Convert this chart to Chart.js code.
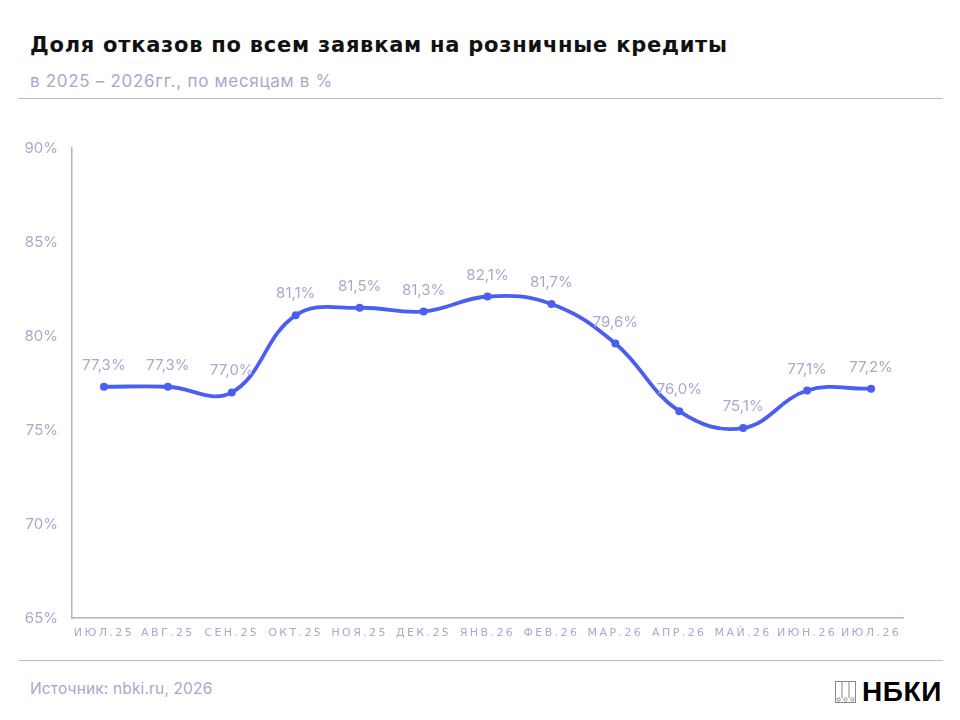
<!DOCTYPE html>
<html lang="ru">
<head>
<meta charset="utf-8">
<script src="https://cdn.jsdelivr.net/npm/chart.js@4"></script>
<style>
  html, body { margin: 0; padding: 0; background: #fff; }
  body { width: 960px; height: 720px; position: relative; overflow: hidden; font-family: Inter, "Noto Sans", sans-serif; }
  h1 { position: absolute; left: 30px; top: 33px; margin: 0; font-family: "DejaVu Sans", sans-serif; font-size: 21px; font-weight: 700; color: #111; letter-spacing: 0.75px; white-space: nowrap; }
  .sub { position: absolute; left: 30px; top: 71px; font-size: 17px; color: #aaa8cb; letter-spacing: 0.7px; white-space: nowrap; }
  .rule { position: absolute; left: 18px; width: 925px; height: 0; border-top: 1.5px solid #bcbad3; }
  #wrap { position: absolute; left: 0; top: 100px; width: 960px; height: 560px; }
  .src { position: absolute; left: 30px; top: 679px; font-size: 15.5px; color: #a9a7c8; letter-spacing: 0.15px; }
  .logo { position: absolute; left: 835px; top: 676px; display: flex; align-items: center; gap: 6px; }
  .logo span { font-size: 28px; font-weight: 700; color: #000; letter-spacing: 0.6px; font-family: "Liberation Sans", Arial, sans-serif; }
</style>
</head>
<body>
<h1>Доля отказов по всем заявкам на розничные кредиты</h1>
<div class="sub">в 2025 – 2026гг., по месяцам в %</div>
<div class="rule" style="top:98px"></div>
<div id="wrap"><canvas id="chart"></canvas></div>
<div class="rule" style="top:660px"></div>
<div class="src">Источник: nbki.ru, 2026</div>
<div class="logo">
  <svg width="21" height="22" viewBox="0 0 21 22">
    <g fill="none" stroke="#888" stroke-width="1">
      <rect x="0.5" y="0.5" width="20" height="21"/>
      <line x1="7" y1="0.5" x2="7" y2="17"/>
      <line x1="14" y1="0.5" x2="14" y2="17"/>
      <circle cx="3.7" cy="18.5" r="1.6"/>
      <circle cx="10.5" cy="18.5" r="1.6"/>
      <circle cx="17.3" cy="18.5" r="1.6"/>
    </g>
  </svg>
  <span>НБКИ</span>
</div>
<script>
const months = ['ИЮЛ.25', 'АВГ.25', 'СЕН.25', 'ОКТ.25', 'НОЯ.25', 'ДЕК.25', 'ЯНВ.26', 'ФЕВ.26', 'МАР.26', 'АПР.26', 'МАЙ.26', 'ИЮН.26', 'ИЮЛ.26'];
const refusalShare = [77.3, 77.3, 77.0, 81.1, 81.5, 81.3, 82.1, 81.7, 79.6, 76.0, 75.1, 77.1, 77.2];
const yTicks = [65, 70, 75, 80, 85, 90];

const lineColor = '#4a5ff0';
const softText = '#aaa8cb';
const axisColor = '#b4b2cd';

// spaced-out month labels: wrap only the x axis label drawing
const spacing = {
  id: 'spacing',
  beforeDraw(chart) {
    const s = chart.scales.x;
    if (s._spaced) return;
    const orig = s.drawLabels.bind(s);
    s.drawLabels = function (area) {
      const c = this.ctx;
      const prev = c.letterSpacing;
      c.letterSpacing = '2.4px';
      orig(area);
      c.letterSpacing = prev;
    };
    s._spaced = true;
  }
};

const valueLabels = {
  id: 'valueLabels',
  afterDatasetsDraw(chart) {
    const ctx = chart.ctx;
    const meta = chart.getDatasetMeta(0);
    ctx.save();
    ctx.font = '15px Inter, "Noto Sans", sans-serif';
    ctx.fillStyle = softText;
    ctx.textAlign = 'center';
    ctx.textBaseline = 'bottom';
    meta.data.forEach((pt, i) => {
      const txt = refusalShare[i].toFixed(1).replace('.', ',') + '%';
      ctx.fillText(txt, pt.x, pt.y - 14);
    });
    ctx.restore();
  }
};

new Chart(document.getElementById('chart'), {
  type: 'line',
  data: {
    labels: months,
    datasets: [{
      data: refusalShare,
      borderColor: lineColor,
      backgroundColor: lineColor,
      borderWidth: 3.8,
      tension: 0.4,
      pointRadius: 4,
      pointHoverRadius: 4,
      pointBackgroundColor: lineColor,
      pointBorderWidth: 0
    }]
  },
  options: {
    responsive: true,
    maintainAspectRatio: false,
    animation: false,
    events: [],
    layout: { padding: { left: 0, top: 48, right: 57, bottom: 0 } },
    plugins: { legend: { display: false }, tooltip: { enabled: false } },
    scales: {
      x: {
        offset: true,
        grid: { display: false, drawTicks: false },
        border: { color: axisColor, width: 1.5 },
        ticks: {
          color: softText,
          font: { family: '"DejaVu Sans", sans-serif', size: 11 },
          padding: 9,
          maxRotation: 0,
          autoSkip: false
        },
        afterFit(scale) { scale.height = 42; }
      },
      y: {
        min: 65,
        max: 90,
        afterBuildTicks(scale) { scale.ticks = yTicks.map(v => ({ value: v })); },
        grid: { display: false, drawTicks: false },
        border: { color: axisColor, width: 1.5 },
        ticks: {
          color: softText,
          font: { family: 'Inter, "Noto Sans", sans-serif', size: 15 },
          padding: 14,
          callback: v => v + '%'
        },
        afterFit(scale) { scale.width = 72; }
      }
    }
  },
  plugins: [spacing, valueLabels]
});
</script>
</body>
</html>
